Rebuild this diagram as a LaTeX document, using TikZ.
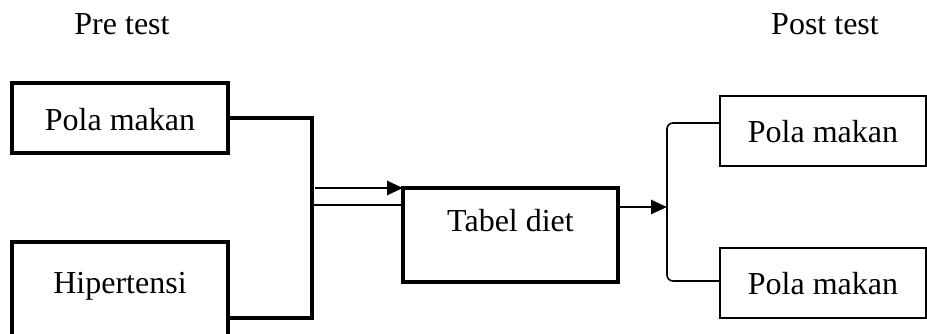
\documentclass[tikz,border=0pt]{standalone}
\usepackage{fontspec}
\setmainfont{Liberation Serif}
\usetikzlibrary{arrows.meta}

\begin{document}
\begin{tikzpicture}[x=1pt,y=-1pt,inner sep=0pt,
        every node/.style={font=\fontsize{32}{38}\selectfont},
        box/.style={draw,line width=3.2pt,outer sep=0pt,minimum width=216pt},
        postbox/.style={draw,line width=2.4pt,outer sep=0pt,minimum width=206pt},
        bracket/.style={line width=3.2pt},
        thinline/.style={line width=1.6pt},
        arr/.style={line width=2.6pt,-{Triangle[length=16pt,width=14pt]}}]
    \useasboundingbox (0,0) rectangle (927,334);
    \clip (0,0) rectangle (927,334);
    % headings
    \node[anchor=base] (pre) at (122,35) {Pre test};
    \node[anchor=base] (post) at (825,35) {Post test};
    % boxes
    \node[box,anchor=north west,text height=48pt,text depth=22pt] (polaA) at (12,83) {Pola makan};
    \node[box,anchor=north west,text height=51pt,text depth=52pt] (hip) at (12,242) {Hipertensi};
    \node[box,anchor=north west,minimum width=215pt,text height=44pt,text depth=50pt] (tabel) at (403,188) {Tabel diet};
    \node[postbox,anchor=north west,text height=47pt,text depth=23pt] (postA) at (720,96) {Pola makan};
    \node[postbox,anchor=north west,text height=46pt,text depth=24pt] (postB) at (720,248) {Pola makan};
    % connectors
    \coordinate (join) at (312,205);
    \coordinate (hipEnd) at (228,318);
    \coordinate (inA) at (315,188);
    \coordinate (fork) at (667,207);
    \draw[bracket] (polaA.east) -| (join) |- (hipEnd);
    \draw[thinline] (join) -- (join -| tabel.west);
    \draw[arr] (inA) -- (tabel.north west);
    \draw[arr] (fork -| tabel.east) -- (fork);
    \draw[thinline,rounded corners=6pt] ([yshift=8pt]postA.west) -| (fork) |- ([yshift=2pt]postB.west);
\end{tikzpicture}
\end{document}
